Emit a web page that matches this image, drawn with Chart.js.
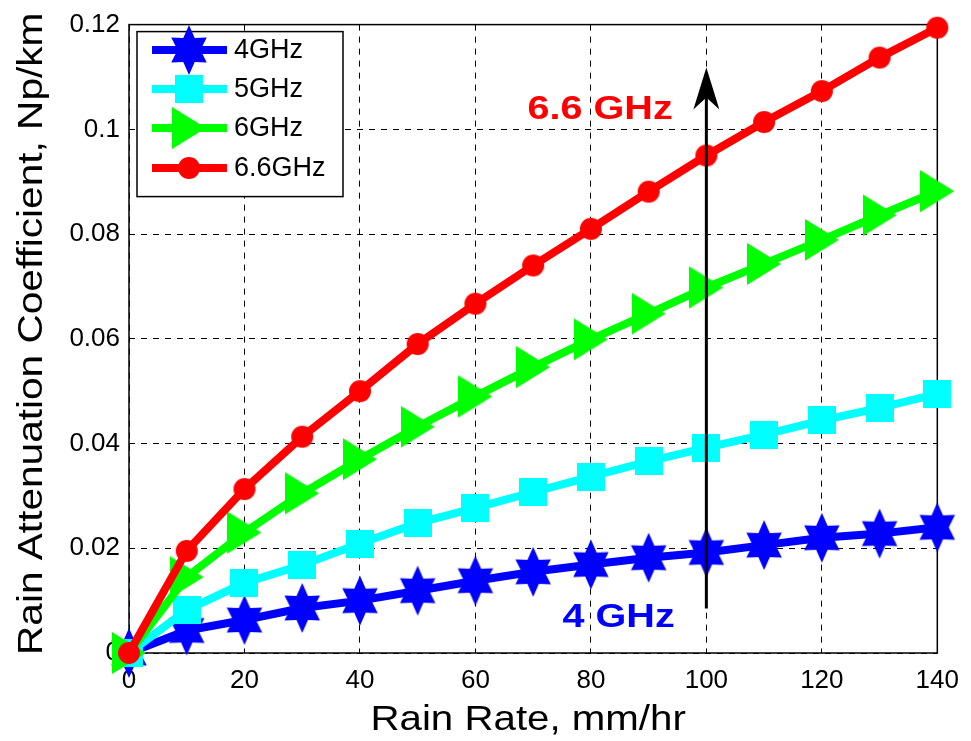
<!DOCTYPE html>
<html lang="en">
<head>
<meta charset="UTF-8">
<title>Rain Attenuation Coefficient vs Rain Rate</title>
<script src="https://cdn.jsdelivr.net/npm/chart.js@4"></script>
<style>
  html, body { margin: 0; padding: 0; background: #fff; }
  #wrap { width: 971px; height: 741px; }
</style>
</head>
<body>
<div id="wrap"><canvas id="attChart" width="971" height="741"></canvas></div>
<script>
// Rain rate samples (mm/hr)
const rainRate = [0, 10, 20, 30, 40, 50, 60, 70, 80, 90, 100, 110, 120, 130, 140];

// Attenuation coefficient (Np/km) per frequency
const att4GHz  = [0, 0.0043, 0.0063, 0.0086, 0.0100, 0.0119, 0.0138, 0.0155, 0.0169, 0.0182, 0.0192, 0.0206, 0.0220, 0.0228, 0.0240];
const att5GHz  = [0, 0.0082, 0.0134, 0.0168, 0.0209, 0.0248, 0.0277, 0.0307, 0.0337, 0.0366, 0.0392, 0.0417, 0.0444, 0.0468, 0.0495];
const att6GHz  = [0, 0.0145, 0.0230, 0.0305, 0.0370, 0.0432, 0.0490, 0.0546, 0.0599, 0.0648, 0.0698, 0.0743, 0.0789, 0.0836, 0.0882];
const att66GHz = [0, 0.0195, 0.0313, 0.0413, 0.0500, 0.0590, 0.0667, 0.0740, 0.0810, 0.0881, 0.0950, 0.1014, 0.1073, 0.1137, 0.1194];

const seriesLabels = ['4GHz', '5GHz', '6GHz', '6.6GHz'];
const xTicks = [0, 20, 40, 60, 80, 100, 120, 140];
const yTicks = [0, 0.02, 0.04, 0.06, 0.08, 0.1, 0.12];

// plot box we want inside the 971x741 canvas
const AREA = { left: 129, top: 20, right: 942, bottom: 653 };

// MATLAB-like marker glyphs rendered once to small canvases
function makeMarker(w, h, draw) {
  const c = document.createElement('canvas');
  c.width = w; c.height = h;
  const g = c.getContext('2d');
  draw(g, w / 2, h / 2);
  return c;
}

const hexagram = makeMarker(44, 52, (g, cx, cy) => {
  const R = 25, r = 14;
  g.beginPath();
  for (let i = 0; i < 12; i++) {
    const a = (-90 + i * 30) * Math.PI / 180;
    const rad = i % 2 === 0 ? R : r;
    const px = cx + rad * Math.cos(a) * 0.82;
    const py = cy + rad * Math.sin(a);
    i === 0 ? g.moveTo(px, py) : g.lineTo(px, py);
  }
  g.closePath();
  g.fillStyle = '#0000ff';
  g.fill();
});

const square = makeMarker(28, 28, (g) => {
  g.fillStyle = '#00ffff';
  g.fillRect(0, 0, 28, 28);
});

const triRight = makeMarker(34, 44, (g) => {
  g.beginPath();
  g.moveTo(0, 1);
  g.lineTo(34, 22);
  g.lineTo(0, 43);
  g.closePath();
  g.fillStyle = '#00ff00';
  g.fill();
});

const dot = makeMarker(24, 24, (g, cx, cy) => {
  g.beginPath();
  g.arc(cx, cy, 11, 0, Math.PI * 2);
  g.fillStyle = '#ff0000';
  g.fill();
});

const seriesColors = ['#0000ff', '#00ffff', '#00ff00', '#ff0000'];
const seriesMarkers = [hexagram, square, triRight, dot];
const seriesData = [att4GHz, att5GHz, att6GHz, att66GHz];

// text drawn with a stretch factor along its writing direction
function stretchedText(ctx, text, x, y, font, color, stretch, rotate) {
  ctx.save();
  ctx.translate(x, y);
  if (rotate) ctx.rotate(rotate);
  ctx.scale(stretch, 1);
  ctx.font = font;
  ctx.fillStyle = color;
  ctx.textAlign = 'center';
  ctx.textBaseline = 'alphabetic';
  ctx.fillText(text, 0, 0);
  ctx.restore();
}

const framePlugin = {
  id: 'frame',
  beforeDatasetsDraw(chart) {
    const { ctx, chartArea: a } = chart;
    ctx.save();
    ctx.strokeStyle = '#000';
    ctx.lineWidth = 1.5;
    ctx.strokeRect(a.left, a.top, a.right - a.left, a.bottom - a.top);
    ctx.restore();
  }
};

const annotatePlugin = {
  id: 'annotate',
  afterDatasetsDraw(chart) {
    const { ctx, chartArea: a, scales: { x, y } } = chart;

    // arrow across the curves at 100 mm/hr
    const ax = x.getPixelForValue(100);
    const yFrom = y.getPixelForValue(0.0085);
    const yTo = y.getPixelForValue(0.1118);
    ctx.save();
    ctx.strokeStyle = '#000';
    ctx.lineWidth = 3;
    ctx.beginPath();
    ctx.moveTo(ax, yFrom);
    ctx.lineTo(ax, yTo + 20);
    ctx.stroke();
    ctx.fillStyle = '#000';
    ctx.beginPath();
    ctx.moveTo(ax, yTo);
    ctx.lineTo(ax + 13, yTo + 42);
    ctx.lineTo(ax, yTo + 30);
    ctx.lineTo(ax - 13, yTo + 42);
    ctx.closePath();
    ctx.fill();
    ctx.restore();

    stretchedText(ctx, '6.6 GHz', x.getPixelForValue(81.6), y.getPixelForValue(0.1020),
      'bold 33px Arial, "Liberation Sans", sans-serif', '#ff0000', 1.2);
    stretchedText(ctx, '4 GHz', x.getPixelForValue(84.8), y.getPixelForValue(0.0050),
      'bold 33px Arial, "Liberation Sans", sans-serif', '#0000ff', 1.2);

    // legend box
    const lx = a.left + 8, ly = a.top + 7, lw = 206, lh = 165;
    ctx.save();
    ctx.fillStyle = '#fff';
    ctx.fillRect(lx, ly, lw, lh);
    ctx.strokeStyle = '#000';
    ctx.lineWidth = 1.5;
    ctx.strokeRect(lx, ly, lw, lh);
    const rows = [50, 89, 128, 168];
    seriesLabels.forEach((label, i) => {
      const ry = rows[i];
      ctx.strokeStyle = seriesColors[i];
      ctx.lineWidth = 8;
      ctx.beginPath();
      ctx.moveTo(lx + 15, ry);
      ctx.lineTo(lx + 90, ry);
      ctx.stroke();
      const m = seriesMarkers[i];
      ctx.drawImage(m, lx + 52 - m.width / 2, ry - m.height / 2);
      ctx.font = '27px Arial, "Liberation Sans", sans-serif';
      ctx.fillStyle = '#000';
      ctx.textAlign = 'left';
      ctx.textBaseline = 'middle';
      ctx.fillText(label, lx + 97, ry + 1);
    });
    ctx.restore();
  },
  afterDraw(chart) {
    const { ctx, chartArea: a } = chart;
    const font = '35px Arial, "Liberation Sans", sans-serif';
    stretchedText(ctx, 'Rain Rate, mm/hr', (a.left + a.right) / 2 - 5, a.bottom + 77, font, '#000', 1.15);
    stretchedText(ctx, 'Rain Attenuation Coefficient, Np/km', a.left - 87, (a.top + a.bottom) / 2 - 5,
      font, '#000', 1.16, -Math.PI / 2);
  }
};

const datasets = seriesLabels.map((label, i) => ({
  label,
  data: seriesData[i],
  borderColor: seriesColors[i],
  backgroundColor: seriesColors[i],
  borderWidth: 8,
  pointStyle: seriesMarkers[i],
  pointRadius: 12,
  pointHoverRadius: 12,
  tension: 0,
  clip: false,
  order: 3 - i
}));

const chart = new Chart(document.getElementById('attChart'), {
  type: 'line',
  data: { labels: rainRate, datasets },
  options: {
    responsive: false,
    animation: false,
    events: [],
    layout: { padding: { top: AREA.top, right: 971 - AREA.right, left: 0, bottom: 0 } },
    plugins: { legend: { display: false }, tooltip: { enabled: false } },
    scales: {
      x: {
        type: 'linear',
        min: 0,
        max: 140,
        afterFit(scale) { scale.height = 741 - AREA.bottom; },
        afterBuildTicks(scale) { scale.ticks = xTicks.map(v => ({ value: v })); },
        ticks: {
          color: '#000',
          padding: 12,
          maxRotation: 0,
          font: { family: 'Arial, "Liberation Sans", sans-serif', size: 26 }
        },
        grid: { color: '#000', lineWidth: 1, drawTicks: false },
        border: { display: false, dash: [6, 6] }
      },
      y: {
        min: 0,
        max: 0.12,
        afterFit(scale) { scale.width = AREA.left; },
        afterBuildTicks(scale) { scale.ticks = yTicks.map(v => ({ value: v })); },
        ticks: {
          color: '#000',
          padding: 9,
          callback: v => String(+v.toFixed(2)),
          font: { family: 'Arial, "Liberation Sans", sans-serif', size: 26 }
        },
        grid: { color: '#000', lineWidth: 1, drawTicks: false },
        border: { display: false, dash: [6, 6] }
      }
    }
  },
  plugins: [framePlugin, annotatePlugin]
});

// nudge the padding so the plot box lands where intended
const pad = chart.options.layout.padding;
const ca = chart.chartArea;
pad.top += AREA.top - ca.top;
pad.right += ca.right - AREA.right;
chart.update();
</script>
</body>
</html>
